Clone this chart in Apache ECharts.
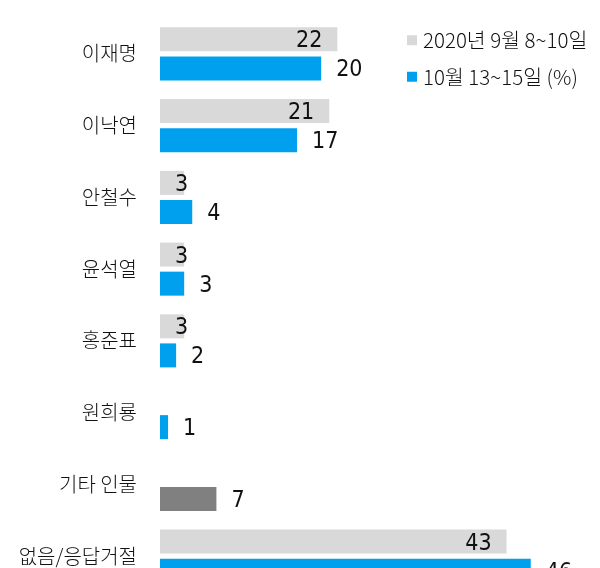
<!DOCTYPE html>
<html>
<head>
<meta charset="utf-8">
<script src="https://cdn.jsdelivr.net/npm/echarts@6/dist/echarts.min.js"></script>
<style>
  html, body { margin: 0; padding: 0; background: #fff; overflow: hidden; }
  /* 아래쪽이 잘린 원본처럼 캔버스를 창보다 길게 */
  #chart { width: 600px; height: 600px; }
</style>
</head>
<body>
<div id="chart"></div>
<script>
// 차기 대선주자 선호도
const names = ['이재명', '이낙연', '안철수', '윤석열', '홍준표', '원희룡', '기타 인물', '없음/응답거절']
const sept = [22, 21, 3, 3, 3, '-', '-', 43]
const oct = [20, 17, 4, 3, 2, 1, '-', 46]
const etc = ['-', '-', '-', '-', '-', '-', 7, '-']
const legendNames = ['2020년 9월 8~10일', '10월 13~15일 (%)']

const KR = "'Noto Sans CJK KR', sans-serif"
const NUM = "'DejaVu Sans Condensed', 'Noto Sans CJK KR', sans-serif"

const outLabel = {
  show: true,
  position: 'right',
  distance: 15,
  color: '#111',
  fontSize: 23,
  fontFamily: NUM,
  offset: [0, 2]
}

let chart = echarts.init(document.getElementById('chart'))

let option = {
  animation: false,
  textStyle: { fontFamily: KR },
  legend: {
    orient: 'vertical',
    left: 402,
    top: 25,
    itemWidth: 10,
    itemHeight: 10,
    itemGap: 16,
    icon: 'rect',
    data: legendNames,
    textStyle: { fontSize: 20.5, color: '#111', fontFamily: KR, fontWeight: 300, padding: [2, 0, 0, 1] }
  },
  grid: { left: 160, top: 18, width: 403, height: 574 },
  xAxis: {
    type: 'value',
    min: 0,
    max: 50,
    show: false
  },
  yAxis: {
    type: 'category',
    data: names,
    inverse: true,
    axisLine: { show: false },
    axisTick: { show: false },
    axisLabel: { fontSize: 20, color: '#111', margin: 23, fontFamily: KR, fontWeight: 300 }
  },
  series: [
    {
      name: legendNames[0],
      type: 'bar',
      barWidth: 24,
      barGap: '21%',
      itemStyle: { color: '#d9d9d9' },
      // 작은 값은 막대 끝 바깥쪽으로 살짝
      data: sept.map(v => ({
        value: v,
        label: v !== '-' && v < 10 ? { offset: [19, 2] } : undefined
      })),
      label: {
        show: true,
        position: 'insideRight',
        distance: 15,
        color: '#111',
        fontSize: 23,
        fontFamily: NUM,
        offset: [0, 2]
      }
    },
    {
      name: legendNames[1],
      type: 'bar',
      stack: 'oct',
      barWidth: 24,
      itemStyle: { color: '#00a0ef' },
      data: oct,
      label: outLabel
    },
    {
      name: '기타',
      type: 'bar',
      stack: 'oct',
      barWidth: 24,
      itemStyle: { color: '#808080' },
      data: etc,
      label: outLabel
    }
  ]
}

chart.setOption(option)
</script>
</body>
</html>
